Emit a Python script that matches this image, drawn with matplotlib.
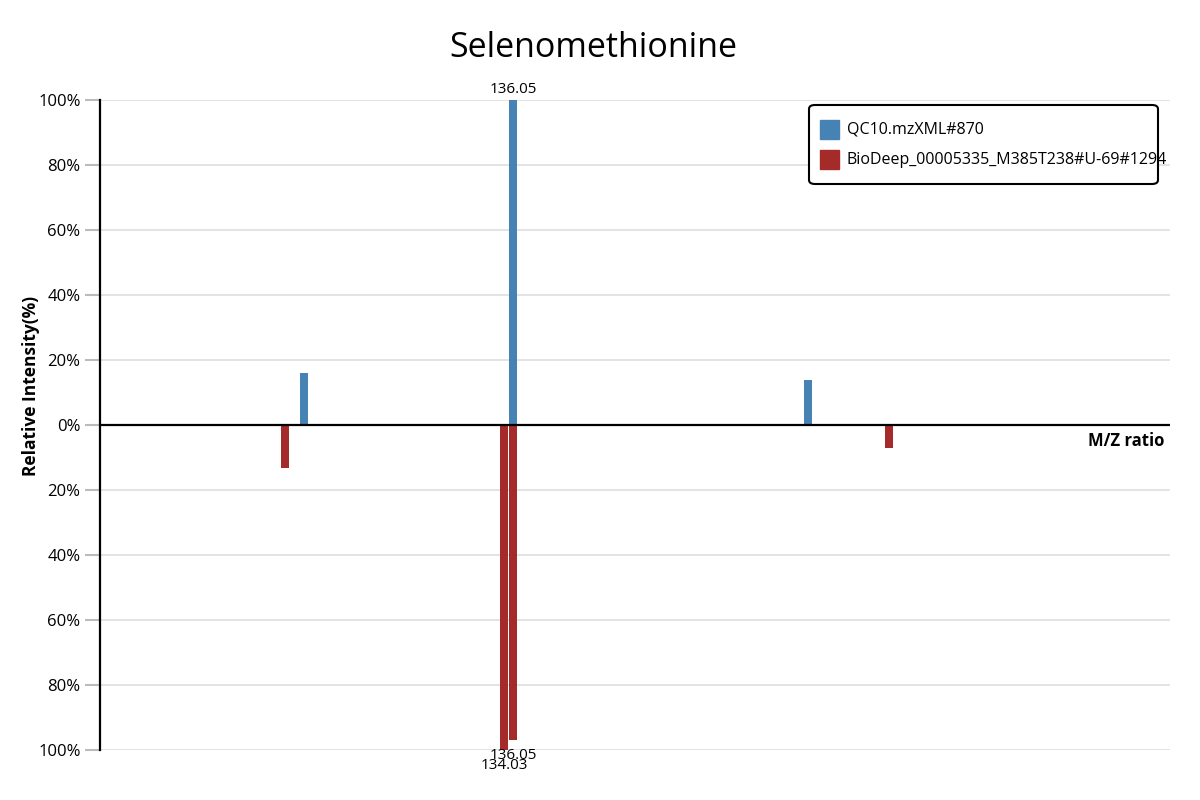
import matplotlib
matplotlib.use("Agg")
import matplotlib.pyplot as plt
from matplotlib.patches import FancyBboxPatch, Rectangle
from matplotlib.ticker import FuncFormatter

plt.rcParams["font.family"] = ["Open Sans", "DejaVu Sans"]

# =============================================================================
# DATA
# =============================================================================
title = "Selenomethionine"
query_name = "QC10.mzXML#870"
ref_name = "BioDeep_00005335_M385T238#U-69#1294"

query_mz = [89.14, 136.05, 202.27]
query_intensity = [16.0, 100.0, 13.8]

ref_mz = [84.87, 134.03, 136.05, 220.45]
ref_intensity = [13.1, 100.0, 96.8, 7.0]

y_ticks = [-100, -80, -60, -40, -20, 0, 20, 40, 60, 80, 100]
mz_range = (43.35, 283.5)

# =============================================================================
# STYLE
# =============================================================================
COLORS = {
    "query": "#4682B4",
    "ref": "#A52A2A",
    "grid": "#E0E0E0",
    "tick": "#BBBBBB",
}
BAR_WIDTH = 1.8
LABEL_MIN = 50  # only annotate the big peaks
W, H = 1200, 800


def fx(px):
    return px / W


def fy(py):
    return 1 - py / H


fig = plt.figure(figsize=(12, 8), dpi=100)
ax = fig.add_axes([fx(100), 50 / H, 1070 / W, 650 / H])

ax.bar(query_mz, query_intensity, width=BAR_WIDTH, color=COLORS["query"], zorder=3)
ax.bar(ref_mz, [-v for v in ref_intensity], width=BAR_WIDTH, color=COLORS["ref"], zorder=3)

# peak labels
for mz, v in zip(query_mz, query_intensity):
    if v >= LABEL_MIN:
        ax.annotate(f"{mz:.2f}", (mz, v), xytext=(0, 2), textcoords="offset points",
                    ha="center", va="bottom", fontsize=11)
for mz, v in zip(ref_mz, ref_intensity):
    if v >= LABEL_MIN:
        ax.annotate(f"{mz:.2f}", (mz, -v), xytext=(0, -6), textcoords="offset points",
                    ha="center", va="top", fontsize=11, zorder=4)

ax.set_xlim(*mz_range)
ax.set_ylim(-100, 100)
ax.set_yticks(y_ticks)
ax.yaxis.set_major_formatter(FuncFormatter(lambda v, _: f"{abs(v):.0f}%"))
ax.tick_params(axis="y", length=11, width=1.5, color=COLORS["tick"], labelsize=12, pad=3)
ax.set_xticks([])
for y in y_ticks:
    ax.axhline(y, color=COLORS["grid"], lw=1.3, zorder=1)
ax.axhline(0, color="black", lw=1.6, zorder=4)

for side in ["top", "right", "bottom"]:
    ax.spines[side].set_visible(False)
ax.spines["left"].set_linewidth(1.6)
ax.spines["left"].set_zorder(5)

fig.text(fx(593), fy(48), title, ha="center", va="center", fontsize=24.5)
fig.text(fx(31), fy(386), "Relative Intensity(%)", rotation=90,
         ha="center", va="center", fontsize=12.5, fontweight="bold")
ax.annotate("M/Z ratio", (1.0, 0), xycoords=("axes fraction", "data"),
            xytext=(-4, -5), textcoords="offset points", ha="right", va="top",
            fontsize=12, fontweight="bold")

# --- legend box, drawn by hand so the long name can run past the frame like the original ---
fig.patches.append(FancyBboxPatch((fx(809), fy(184)), fx(1158) - fx(809), fy(105) - fy(184),
                                  boxstyle="round,pad=0,rounding_size=0.005",
                                  transform=fig.transFigure, facecolor="white",
                                  edgecolor="black", linewidth=1.5, zorder=10))
for name, color, top in [(query_name, COLORS["query"], 120), (ref_name, COLORS["ref"], 150)]:
    fig.patches.append(Rectangle((fx(820), fy(top + 19)), 19 / W, 19 / H,
                                 transform=fig.transFigure, color=color, zorder=11))
    fig.text(fx(847), fy(top + 9.5), name, ha="left", va="center", fontsize=11.5, zorder=12)

fig.savefig("out.png", dpi=100, facecolor="white")
